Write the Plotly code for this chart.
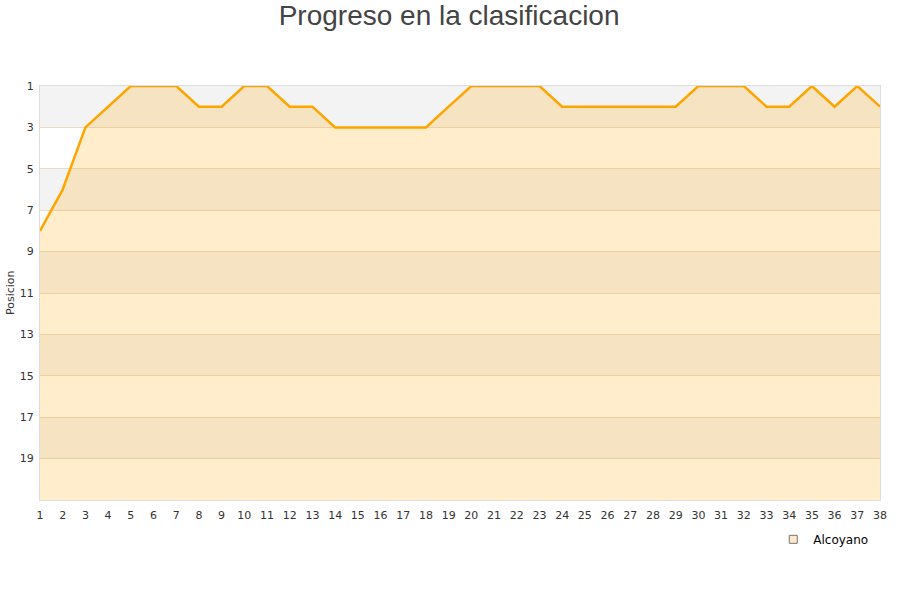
import plotly.graph_objects as go

jornadas = list(range(1, 39))
posiciones = [8, 6, 3, 2, 1, 1, 1, 2, 2, 1, 1, 2, 2, 3, 3, 3, 3, 3, 2, 1,
              1, 1, 1, 2, 2, 2, 2, 2, 2, 1, 1, 1, 2, 2, 1, 2, 1, 2]
y_ticks = [1, 3, 5, 7, 9, 11, 13, 15, 17, 19]
equipo = "Alcoyano"
y_bottom = 21

fig = go.Figure()

# background bands
for lo in [1, 5, 9, 13, 17]:
    fig.add_shape(type="rect", xref="paper", yref="y", x0=0, x1=1, y0=lo, y1=lo + 2,
                  fillcolor="#f3f3f3", line_width=0, layer="below")

fig.add_trace(go.Scatter(x=jornadas, y=[y_bottom] * len(jornadas), mode="lines",
                         line=dict(width=0), showlegend=False, hoverinfo="skip"))
fig.add_trace(go.Scatter(x=jornadas, y=posiciones, mode="lines", fill="tonexty",
                         fillcolor="rgba(255,165,0,0.2)",
                         line=dict(color="#ffa500", width=2.5),
                         showlegend=False, name=equipo, cliponaxis=False))
fig.add_trace(go.Scatter(x=[None], y=[None], mode="markers", name=equipo,
                         marker=dict(symbol="square", size=8, color="#fde9c8",
                                     line=dict(color="#777", width=1))))

fig.add_annotation(text="Posicion", xref="paper", yref="paper", x=-30 / 840, y=0.5,
                   xanchor="center", yanchor="middle", textangle=-90, showarrow=False,
                   font=dict(size=11, color="#333"))

fig.update_layout(
    width=900, height=600,
    margin=dict(l=40, r=20, t=86, b=100, autoexpand=False),
    paper_bgcolor="white", plot_bgcolor="white",
    font=dict(family="DejaVu Sans", size=11, color="#333"),
    title=dict(text="Progreso en la clasificacion", x=0.499, xanchor="center",
               y=0.974, yanchor="middle",
               font=dict(family="Liberation Sans", size=28, color="#444")),
    xaxis=dict(range=[1, 38], tickvals=jornadas, ticktext=[str(j) for j in jornadas],
               showgrid=False, zeroline=False, showline=True, linecolor="#ddd",
               mirror=True, ticks="", automargin=False, ticklabelstandoff=5,
               tickfont=dict(size=11, color="#333")),
    yaxis=dict(range=[y_bottom, 1], tickvals=y_ticks, showgrid=True,
               gridcolor="#e8dcc6", zeroline=False, showline=True, linecolor="#ddd",
               mirror=True, ticks="", automargin=False, ticklabelstandoff=3,
               tickfont=dict(size=11, color="#333")),
    legend=dict(x=0.992, xanchor="right", y=-0.060, yanchor="top", itemwidth=30,
                font=dict(size=12, color="#000"), bgcolor="rgba(0,0,0,0)"),
    showlegend=True,
)

fig.write_html("out.html", config={"displayModeBar": False},
               post_script="document.body.style.margin='0';")
